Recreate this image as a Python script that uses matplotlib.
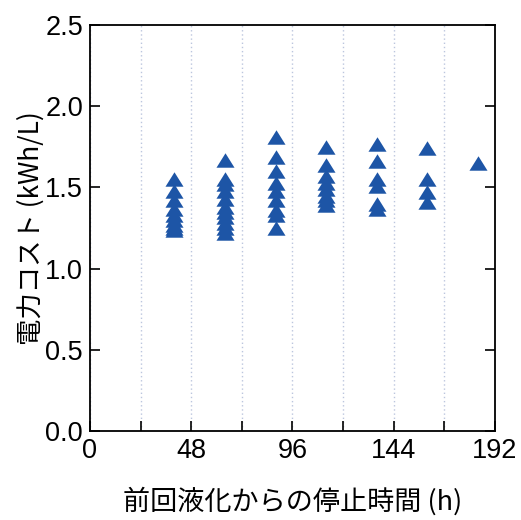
import matplotlib
matplotlib.use("Agg")
import matplotlib.pyplot as plt
from matplotlib.ticker import MultipleLocator

# Data (hours since previous liquefaction, power cost kWh/L)
x_40 = [1.55, 1.48, 1.42, 1.37, 1.33, 1.30, 1.27, 1.25, 1.24]
x_64 = [1.67, 1.55, 1.52, 1.48, 1.43, 1.38, 1.35, 1.32, 1.28, 1.25, 1.22]
x_88 = [1.81, 1.69, 1.60, 1.53, 1.48, 1.42, 1.36, 1.33, 1.25]
x_112 = [1.75, 1.64, 1.57, 1.53, 1.49, 1.45, 1.42, 1.39]
x_136 = [1.77, 1.66, 1.55, 1.51, 1.40, 1.37]
x_160 = [1.74, 1.55, 1.47, 1.41]
x_184 = [1.65]
hours = [40, 64, 88, 112, 136, 160, 184]
costs = [x_40, x_64, x_88, x_112, x_136, x_160, x_184]

xticks = [0, 48, 96, 144, 192]
yticks = [0.0, 0.5, 1.0, 1.5, 2.0, 2.5]

plt.rcParams['font.family'] = ['Liberation Sans', 'Noto Sans CJK JP']

fig = plt.figure(figsize=(5.21, 5.20), dpi=100)
ax = fig.add_axes([0.1727, 0.171, 0.7773, 0.781])

tri = [(-1, -0.8), (1, -0.8), (0, 0.8), (-1, -0.8)]
xs, ys = [], []
for h, c in zip(hours, costs):
    xs += [h] * len(c)
    ys += c
ax.plot(xs, ys, linestyle='none', marker=tri, markersize=13,
        color='#1d55a6', markeredgewidth=0, zorder=3)

ax.set_xlim(0, 192)
ax.set_ylim(0, 2.5)
ax.set_xticks(xticks)
ax.set_yticks(yticks)
ax.set_yticklabels([f"{v:.1f}" for v in yticks])
ax.xaxis.set_minor_locator(MultipleLocator(24))
ax.tick_params(axis='both', which='both', direction='in', length=7, width=1.2,
               top=False, right=True, labelsize=19.5, pad=5)
ax.grid(axis='x', which='both', linestyle=(0, (1, 2)), color='#bcc6de', linewidth=1.0)
for s in ax.spines.values():
    s.set_linewidth(1.3)

ax.set_xlabel('前回液化からの停止時間 (h)', fontsize=19.5,
              family=['Noto Sans CJK JP', 'Liberation Sans'], labelpad=17)
ax.set_ylabel('電力コスト (kWh/L)', fontsize=19,
              family=['Noto Sans CJK JP', 'Liberation Sans'], labelpad=0)

fig.savefig('out.png', dpi=100)
